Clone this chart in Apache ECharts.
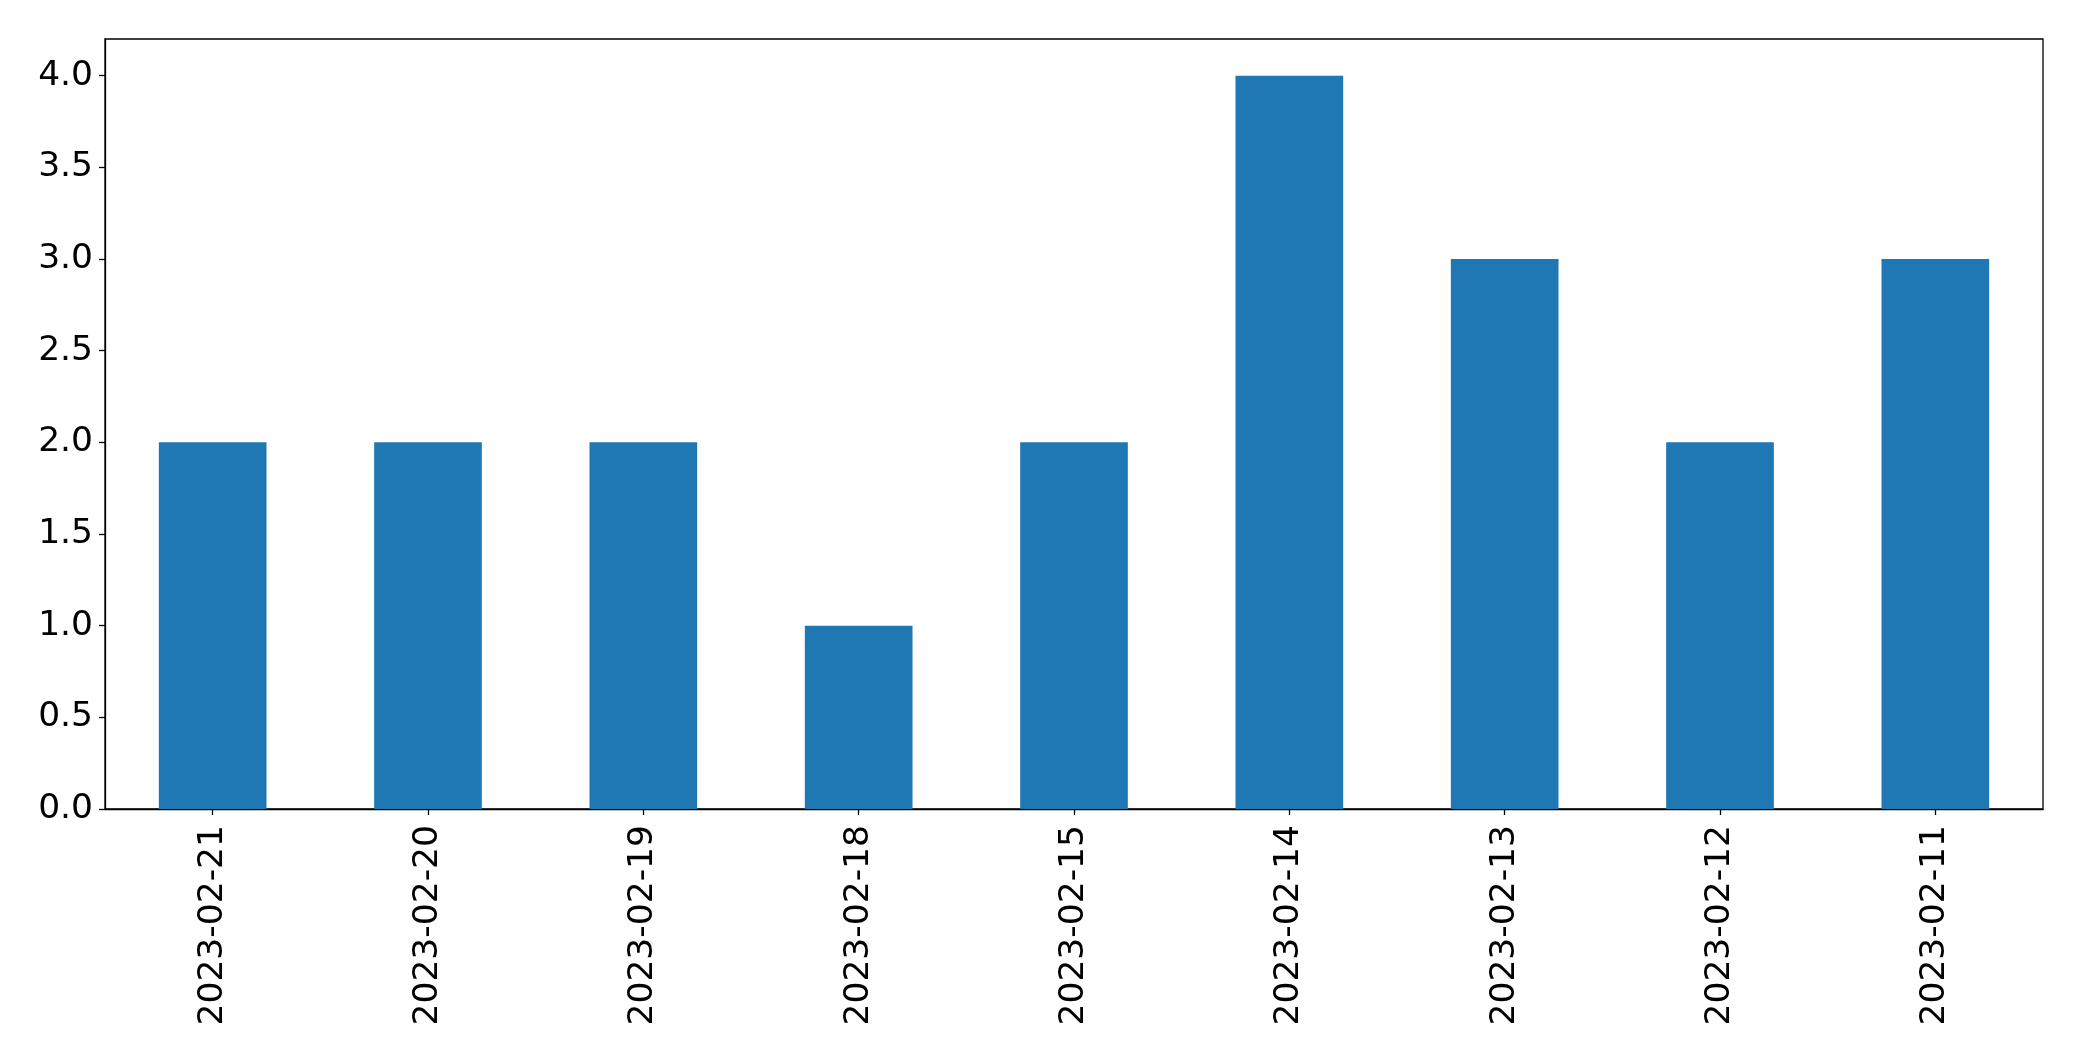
<!DOCTYPE html>
<html>
<head>
<meta charset="utf-8">
<script src="https://cdn.jsdelivr.net/npm/echarts@6/dist/echarts.min.js"></script>
<style>
html,body{margin:0;padding:0;background:#fff;}
#chart{width:2082px;height:1061px;}
</style>
</head>
<body>
<div id="chart"></div>
<script>
const categories = ['2023-02-21','2023-02-20','2023-02-19','2023-02-18','2023-02-15','2023-02-14','2023-02-13','2023-02-12','2023-02-11'];
const values = [2, 2, 2, 1, 2, 4, 3, 2, 3];
const yTicks = [0, 0.5, 1, 1.5, 2, 2.5, 3, 3.5, 4];
const yMin = 0, yMax = 4.2, yInterval = 0.5;

const chart = echarts.init(document.getElementById('chart'), null, {renderer:'canvas'});
const font = 'DejaVu Sans';
chart.setOption({
  animation: false,
  grid: {left:105, top:39, right:2082-2043, bottom:1061-809, show:true, borderColor:'#000', borderWidth:1.3, containLabel:false},
  xAxis: {
    type:'category', data: categories,
    axisLine:{show:true, lineStyle:{color:'#000', width:1.3}},
    axisTick:{show:true, alignWithLabel:true, length:6, lineStyle:{color:'#000', width:1.3}},
    axisLabel:{rotate:90, fontFamily:font, fontSize:34.5, color:'#000', margin:16, interval:0},
    splitLine:{show:false}
  },
  yAxis: {
    type:'value', min:yMin, max:yMax, interval:yInterval,
    axisLine:{show:true, lineStyle:{color:'#000', width:1.3}},
    axisTick:{show:true, length:6, customValues: yTicks, lineStyle:{color:'#000', width:1.3}},
    axisLabel:{fontFamily:font, fontSize:34.5, color:'#000', margin:12, customValues: yTicks,
      padding:[10,0,0,0], formatter: v => Number(v).toFixed(1)},
    splitLine:{show:false}
  },
  series: [{type:'bar', data: values, barWidth:'50%', itemStyle:{color:'#1f77b4'}}]
});
</script>
</body>
</html>
